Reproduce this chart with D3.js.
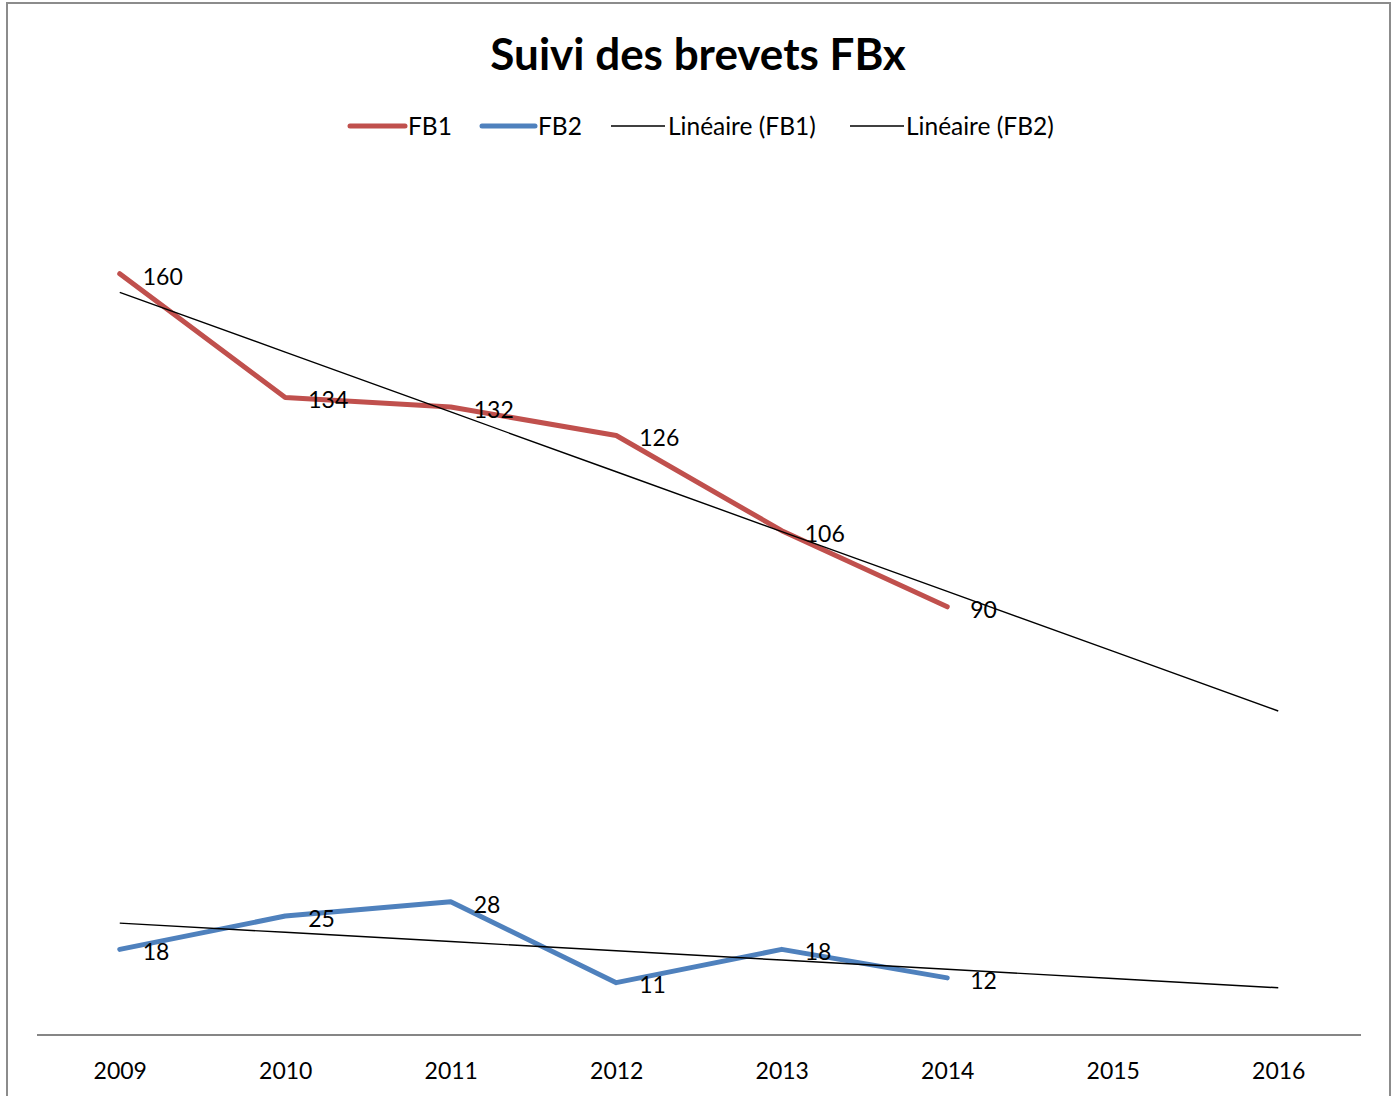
<!DOCTYPE html>
<html>
<head>
<meta charset="utf-8">
<script src="https://cdn.jsdelivr.net/npm/d3@7"></script>
<style>
  html, body { margin: 0; padding: 0; background: #fff; }
  svg { display: block; font-family: Lato, "Open Sans", sans-serif; }
</style>
</head>
<body>
<svg id="chart" width="1397" height="1096"></svg>
<script>
const years = ["2009", "2010", "2011", "2012", "2013", "2014", "2015", "2016"];
const fb1 = [160, 134, 132, 126, 106, 90];
const fb2 = [18, 25, 28, 11, 18, 12];
const legendNames = ["FB1", "FB2", "Linéaire (FB1)", "Linéaire (FB2)"];
const titleText = "Suivi des brevets FBx";

const colors = { FB1: "#C0504D", FB2: "#4F81BD" };

const svg = d3.select("#chart");

// frame
svg.append("rect")
  .attr("x", 7).attr("y", 3)
  .attr("width", 1383).attr("height", 1100)
  .attr("fill", "#fff")
  .attr("stroke", "#8c8c8c")
  .attr("stroke-width", 2);

const x = d3.scalePoint().domain(years).range([37, 1361]).padding(0.5);
const y = d3.scaleLinear().domain([0, 180]).range([1035, 178.6]);

// linear trend (least squares on 1..n), extended across all categories
function trend(values) {
  const xs = values.map((_, i) => i + 1);
  const mx = d3.mean(xs);
  const my = d3.mean(values);
  const slope = d3.sum(xs, (xi, i) => (xi - mx) * (values[i] - my)) / d3.sum(xs, (xi) => (xi - mx) ** 2);
  return years.map((yr, i) => ({ year: yr, value: my + slope * (i + 1 - mx) }));
}

// x axis
const gx = svg.append("g").attr("transform", `translate(0,${y(0)})`);
gx.call(d3.axisBottom(x).tickSize(0).tickPadding(28));
gx.select(".domain").attr("stroke", "#868686").attr("stroke-width", 2).attr("d", "M37,0H1361");
gx.selectAll("text")
  .attr("font-family", "Lato, sans-serif")
  .attr("font-size", 23)
  .attr("fill", "#000");

const line = d3.line().x((d) => x(d.year)).y((d) => y(d.value));

const series = [
  { key: "FB1", values: fb1.map((v, i) => ({ year: years[i], value: v })) },
  { key: "FB2", values: fb2.map((v, i) => ({ year: years[i], value: v })) },
];

const plot = svg.append("g");

plot.selectAll("path.series")
  .data(series)
  .join("path")
  .attr("class", "series")
  .attr("fill", "none")
  .attr("stroke", (d) => colors[d.key])
  .attr("stroke-width", 5)
  .attr("stroke-linecap", "round")
  .attr("stroke-linejoin", "round")
  .attr("d", (d) => line(d.values));

plot.selectAll("path.trend")
  .data([trend(fb1), trend(fb2)])
  .join("path")
  .attr("class", "trend")
  .attr("fill", "none")
  .attr("stroke", "#000")
  .attr("stroke-width", 1.4)
  .attr("d", line);

plot.selectAll("text.label")
  .data(series.flatMap((s) => s.values))
  .join("text")
  .attr("class", "label")
  .attr("x", (d) => x(d.year) + 23)
  .attr("y", (d) => y(d.value) + 5)
  .attr("dominant-baseline", "middle")
  .attr("font-size", 23)
  .attr("fill", "#000")
  .text((d) => d.value);

// title
svg.append("text")
  .attr("x", 698).attr("y", 59)
  .attr("text-anchor", "middle")
  .attr("dominant-baseline", "middle")
  .attr("font-size", 44)
  .attr("font-weight", "bold")
  .attr("fill", "#000")
  .text(titleText);

// legend
const legendItems = [
  { name: legendNames[0], color: colors.FB1, width: 5, x0: 350, x1: 405, tx: 408 },
  { name: legendNames[1], color: colors.FB2, width: 5, x0: 482, x1: 535, tx: 538 },
  { name: legendNames[2], color: "#000", width: 1.4, x0: 611, x1: 665, tx: 668 },
  { name: legendNames[3], color: "#000", width: 1.4, x0: 850, x1: 904, tx: 906 },
];
const lg = svg.append("g").selectAll("g").data(legendItems).join("g");
lg.append("line")
  .attr("x1", (d) => d.x0).attr("x2", (d) => d.x1)
  .attr("y1", 126).attr("y2", 126)
  .attr("stroke", (d) => d.color)
  .attr("stroke-width", (d) => d.width)
  .attr("stroke-linecap", (d) => d.width > 2 ? "round" : "butt");
lg.append("text")
  .attr("x", (d) => d.tx).attr("y", 129)
  .attr("dominant-baseline", "middle")
  .attr("font-size", 24.5)
  .attr("fill", "#000")
  .text((d) => d.name);
</script>
</body>
</html>
